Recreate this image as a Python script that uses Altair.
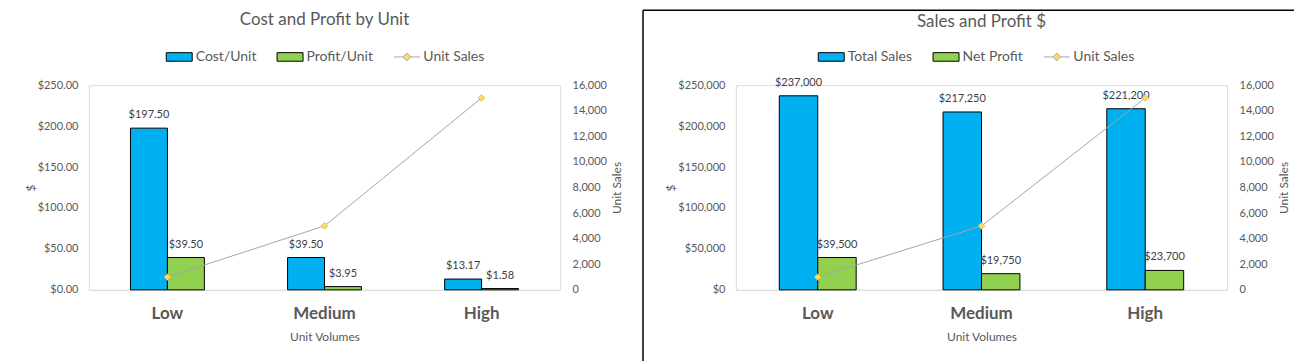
import altair as alt
import pandas as pd

categories = ["Low", "Medium", "High"]
cost_per_unit = [197.50, 39.50, 13.17]
profit_per_unit = [39.50, 3.95, 1.58]
unit_sales = [1000, 5000, 15000]
total_sales = [237000, 217250, 221200]
net_profit = [39500, 19750, 23700]

left_series = ["Cost/Unit", "Profit/Unit", "Unit Sales"]
right_series = ["Total Sales", "Net Profit", "Unit Sales"]

BLUE = "#00B0F0"
GREEN = "#92D050"
LINE_GRAY = "#A5A5A5"
DIAMOND = "#FFD966"
TXT = "#595959"
FONT = "Lato"
BAR_PATH = "M-1,-0.33H1V0.33H-1Z"
LINE_PATH = "M-1,0H-0.3M0.3,0H1M-0.3,0L0,-0.3L0.3,0L0,0.3Z"


def panel(title, series, bar1, bar2, sales, fmt_axis, fmt_label, ymax, ystep,
          width, legend_x, bar_w, title_offset, border=False):
    rows = []
    for i, c in enumerate(categories):
        rows.append(dict(cat=c, series=series[0], value=bar1[i]))
        rows.append(dict(cat=c, series=series[1], value=bar2[i]))
        rows.append(dict(cat=c, series=series[2], value=sales[i]))
    df = pd.DataFrame(rows)
    base = alt.Chart(df)

    legend = alt.Legend(title=None, orient="none", legendX=legend_x, legendY=-42,
                        direction="horizontal", symbolSize=676, labelFontSize=14,
                        labelColor=TXT, labelFont=FONT, columnPadding=18,
                        labelOffset=3, padding=0, symbolStrokeWidth=1)

    x = alt.X("cat:N", sort=categories,
              scale=alt.Scale(paddingInner=0, paddingOuter=0),
              axis=alt.Axis(title="Unit Volumes", labelAngle=0, labelFontWeight="bold",
                            labelFontSize=17, labelColor=TXT, labelFont=FONT,
                            labelPadding=16, domainColor="#D9D9D9", ticks=False,
                            titleFontSize=12, titleColor=TXT, titleFont=FONT,
                            titleFontWeight="normal", titlePadding=10))
    color = alt.Color("series:N", scale=alt.Scale(domain=series, range=[BLUE, GREEN, DIAMOND]),
                      legend=legend)
    stroke = alt.Stroke("series:N", scale=alt.Scale(domain=series, range=["black", "black", LINE_GRAY]),
                        legend=legend)
    shape = alt.Shape("series:N", scale=alt.Scale(domain=series, range=[BAR_PATH, BAR_PATH, LINE_PATH]),
                      legend=legend)

    yleft = alt.Y("value:Q", scale=alt.Scale(domain=[0, ymax]),
                  axis=alt.Axis(title="$", format=fmt_axis, values=list(range(0, int(ymax) + 1, ystep)),
                                grid=False, domain=False, ticks=False, labelPadding=11,
                                labelColor=TXT, labelFontSize=11, labelFont=FONT,
                                titleFontSize=12, titleColor=TXT, titleFont=FONT,
                                titleFontWeight="normal", titlePadding=0))
    yright = alt.Y("value:Q", scale=alt.Scale(domain=[0, 16000]),
                   axis=alt.Axis(orient="right", title="Unit Sales", format=",d",
                                 values=list(range(0, 16001, 2000)),
                                 grid=False, domain=False, ticks=False, labelPadding=12,
                                 labelColor=TXT, labelFontSize=11, labelFont=FONT,
                                 titleFontSize=12, titleColor=TXT, titleFont=FONT,
                                 titleFontWeight="normal", titlePadding=5, titleAngle=270,
                                 titleBaseline="top"))

    f1 = alt.FieldEqualPredicate(field="series", equal=series[0])
    f2 = alt.FieldEqualPredicate(field="series", equal=series[1])
    f3 = alt.FieldEqualPredicate(field="series", equal=series[2])

    half = bar_w / 2
    bars1 = base.transform_filter(f1).mark_bar(strokeWidth=1, width=bar_w, xOffset=-half).encode(
        x=x, y=yleft, color=color, stroke=stroke)
    bars2 = base.transform_filter(f2).mark_bar(strokeWidth=1, width=bar_w, xOffset=half).encode(
        x=x, y=yleft, color=color, stroke=stroke)
    lab1 = base.transform_filter(f1).mark_text(
        baseline="middle", dy=-13, xOffset=-half, fontSize=11, color="#404040", font=FONT).encode(
        x=x, y=yleft, text=alt.Text("value:Q", format=fmt_label))
    lab2 = base.transform_filter(f2).mark_text(
        baseline="middle", dy=-13, xOffset=half, fontSize=11, color="#404040", font=FONT).encode(
        x=x, y=yleft, text=alt.Text("value:Q", format=fmt_label))
    line = base.transform_filter(f3).mark_line(strokeWidth=1).encode(
        x=x, y=yright, stroke=stroke)
    pts = base.transform_filter(f3).mark_point(
        shape="diamond", filled=True, size=45, color=DIAMOND, stroke="#D6B656",
        strokeWidth=0.8, opacity=1).encode(x=x, y=yright)
    legend_pts = base.transform_filter(f3).mark_point(
        filled=True, size=1, opacity=0).encode(x=x, y=yright, color=color, stroke=stroke, shape=shape)

    left_layer = alt.layer(bars1, bars2, lab1, lab2)
    right_layer = alt.layer(line, pts, legend_pts)
    ch = alt.layer(left_layer, right_layer).resolve_scale(y="independent")

    bd = alt.Chart(pd.DataFrame({"a": [0]}))
    if border:
        vr = bd.mark_rule(color="black", strokeWidth=1.5).encode(
            x=alt.value(-93), y=alt.value(-75), y2=alt.value(280))
        hr = bd.mark_rule(color="black", strokeWidth=1.5).encode(
            x=alt.value(-93), x2=alt.value(559), y=alt.value(-75))
        ch = alt.layer(ch, vr, hr)
    else:
        hr = bd.mark_rule(color="white", strokeWidth=1, opacity=0).encode(
            x=alt.value(0), x2=alt.value(10), y=alt.value(-75))
        ch = alt.layer(ch, hr)
    return ch.properties(
        width=width, height=205,
        title=alt.Title(title, fontSize=17, color=TXT, font=FONT, fontWeight="normal",
                        anchor="middle", offset=title_offset))


left = panel("Cost and Profit by Unit", left_series, cost_per_unit, profit_per_unit,
             unit_sales, "$,.2f", "$,.2f", 250, 50, 472, 77, 37, -19)
right = panel("Sales and Profit $", right_series, total_sales, net_profit,
              unit_sales, "$,.0f", "$,.0f", 250000, 50000, 492, 82, 38.5, -21, border=True)

chart = alt.hconcat(left, right, spacing=176, bounds="flush").resolve_scale(
    color="independent", stroke="independent", shape="independent"
).resolve_legend(color="independent", stroke="independent", shape="independent").properties(
    padding={"left": 15, "top": 0, "right": 0, "bottom": 0}
).configure_view(stroke=None).configure(font=FONT)

chart.save("out.html", embed_options={"renderer": "svg", "actions": False})
